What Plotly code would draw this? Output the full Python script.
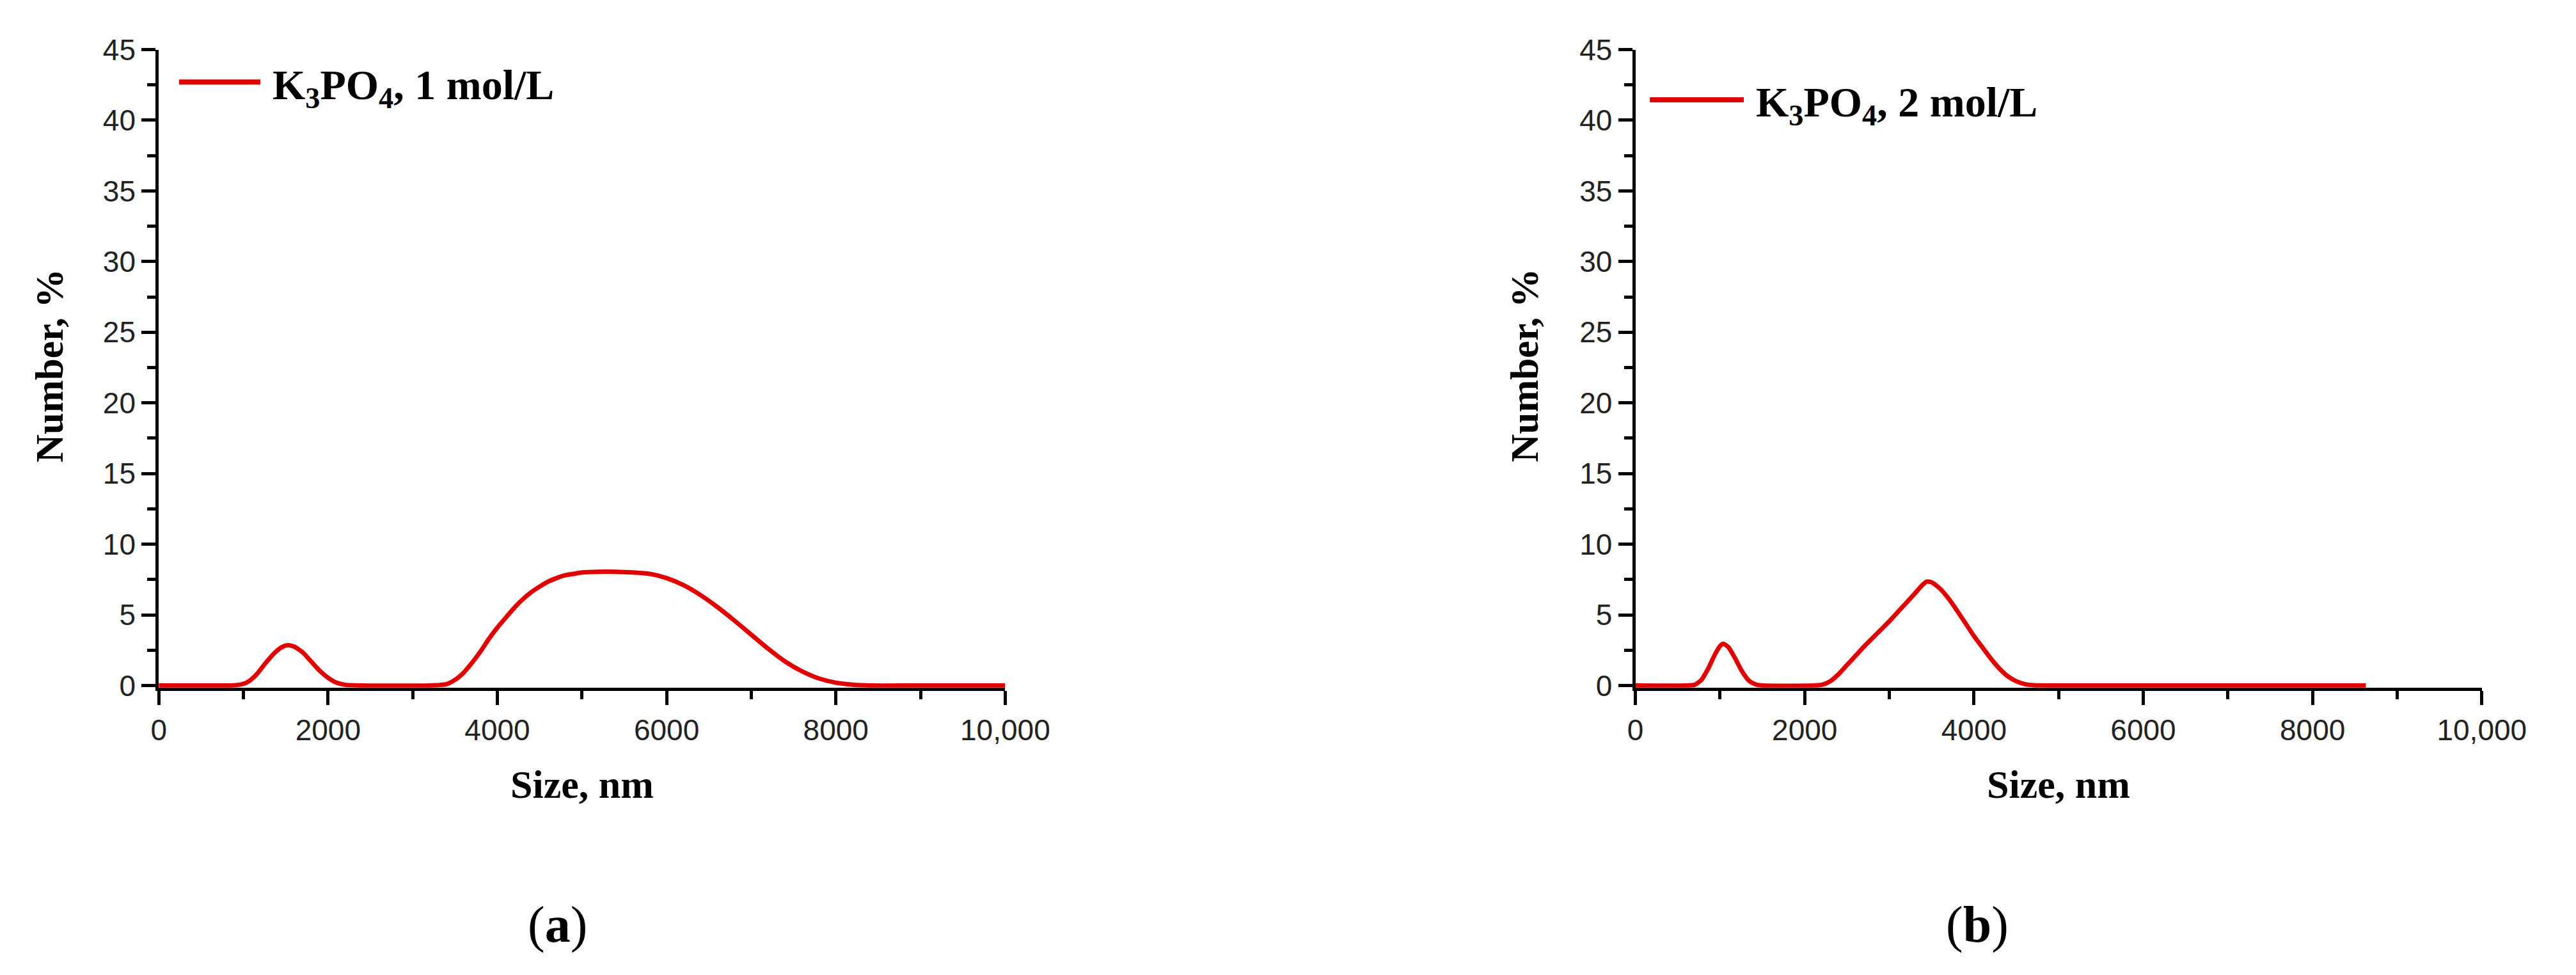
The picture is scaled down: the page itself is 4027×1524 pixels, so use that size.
"""
Particle size distributions (number %) for K3PO4 solutions, two panels.
"""

import plotly.graph_objects as go

# ---- data ----
SIZE_1M = [0, 500, 850, 950, 1050, 1150, 1250, 1350, 1450, 1525, 1600, 1700, 1800,
           1900, 2000, 2100, 2200, 2400, 3200, 3400, 3500, 3600, 3700, 3800, 3900,
           4000, 4100, 4200, 4300, 4400, 4500, 4600, 4700, 4800, 4900, 5000, 5200,
           5400, 5600, 5800, 6000, 6200, 6400, 6600, 6800, 7000, 7200, 7400, 7600,
           7800, 8000, 8200, 8400, 9000, 10000]
NUMBER_1M = [0, 0, 0, 0.05, 0.25, 0.75, 1.5, 2.2, 2.7, 2.85, 2.75, 2.35, 1.7,
             1.05, 0.55, 0.2, 0.05, 0, 0, 0.1, 0.4, 0.9, 1.6, 2.4, 3.3,
             4.1, 4.8, 5.5, 6.1, 6.6, 7.0, 7.35, 7.6, 7.8, 7.9, 8.0, 8.05,
             8.05, 8.0, 7.9, 7.6, 7.1, 6.4, 5.55, 4.6, 3.6, 2.6, 1.7, 1.0,
             0.5, 0.2, 0.06, 0, 0, 0]

SIZE_2M = [0, 600, 700, 780, 860, 940, 1000, 1040, 1100, 1180, 1260, 1340, 1420,
           1500, 2100, 2200, 2300, 2400, 2500, 2600, 2700, 2800, 2900, 3000, 3100,
           3200, 3300, 3380, 3440, 3500, 3600, 3700, 3800, 3900, 4000, 4100, 4200,
           4300, 4400, 4500, 4600, 4700, 5000, 8630]
NUMBER_2M = [0, 0, 0.05, 0.4, 1.2, 2.2, 2.8, 2.95, 2.7, 1.9, 1.0, 0.35, 0.08,
             0, 0, 0.05, 0.3, 0.8, 1.45, 2.1, 2.75, 3.35, 3.95, 4.55, 5.2,
             5.85, 6.5, 7.05, 7.35, 7.3, 6.85, 6.15, 5.3, 4.4, 3.5, 2.7, 1.9,
             1.2, 0.65, 0.3, 0.1, 0.02, 0, 0]

X_TICKS = [0, 2000, 4000, 6000, 8000, 10000]
X_TICK_TEXT = ["0", "2000", "4000", "6000", "8000", "10,000"]
Y_TICKS = [0, 5, 10, 15, 20, 25, 30, 35, 40, 45]

LEGENDS = ["<b>K<sub>3</sub>PO<sub>4</sub>, 1 mol/L</b>",
           "<b>K<sub>3</sub>PO<sub>4</sub>, 2 mol/L</b>"]
PANEL_LABELS = ["(<b>a</b>)", "(<b>b</b>)"]

RED = "#e00000"
SERIF = "Liberation Serif, Times New Roman, serif"
SANS = "Liberation Sans, Arial, sans-serif"

W, H = 4027, 1524


def axis_style():
    return dict(
        showgrid=False, zeroline=False, showline=True,
        linecolor="black", linewidth=5,
        ticks="outside", ticklen=22, tickwidth=5, tickcolor="black",
        tickfont=dict(family=SANS, size=46, color="#222"),
        layer="below traces",
    )


def build_figure() -> go.Figure:
    fig = go.Figure()

    x_domains = [(232 / W, 1583 / W), (2589 / W, 3940 / W)]
    y_domain = [(H - 1075.4) / H, (H - 45) / H]
    series = [(SIZE_1M, NUMBER_1M), (SIZE_2M, NUMBER_2M)]
    legend_y = [42.7, 41.45]
    legend_line = [(0.024, 0.120), (0.017, 0.128)]
    legend_text_x = [0.133, 0.141]
    ytitle_x = [57 / W, 2412 / W]
    panel_x = [868 / W, 3135 / W]

    for i, (sx, sy) in enumerate(series):
        n = "" if i == 0 else str(i + 1)
        xa, ya = "x" + n, "y" + n

        fig.add_trace(go.Scatter(
            x=sx, y=sy, xaxis=xa, yaxis=ya,
            mode="lines", line=dict(color=RED, width=7, shape="spline", smoothing=0.6),
            showlegend=False,
        ))

        xax = axis_style()
        xax.update(domain=list(x_domains[i]), range=[0, 10000], anchor=ya,
                   tickvals=X_TICKS, ticktext=X_TICK_TEXT,
                   minor=dict(dtick=1000, tick0=0, ticks="outside", ticklen=13,
                              tickwidth=5, tickcolor="black"))
        yax = axis_style()
        yax.update(domain=y_domain, range=[-0.15, 45], anchor=xa,
                   tickvals=Y_TICKS,
                   minor=dict(dtick=2.5, tick0=0, ticks="outside", ticklen=13,
                              tickwidth=5, tickcolor="black"))
        fig.layout["xaxis" + n] = xax
        fig.layout["yaxis" + n] = yax

        # legend drawn by hand so the sample line matches the original length
        fig.add_shape(type="line", xref=xa + " domain", yref=ya,
                      x0=legend_line[i][0], x1=legend_line[i][1],
                      y0=legend_y[i], y1=legend_y[i],
                      line=dict(color=RED, width=8))
        fig.add_annotation(text=LEGENDS[i], xref=xa + " domain", yref=ya,
                           x=legend_text_x[i], y=legend_y[i] - 0.4,
                           xanchor="left", yanchor="middle",
                           showarrow=False, font=dict(family=SERIF, size=66, color="black"))

        # axis titles
        fig.add_annotation(text="<b>Size, nm</b>", xref=xa + " domain", yref="paper",
                           x=0.5, y=(H - 1232) / H, xanchor="center", yanchor="middle",
                           showarrow=False, font=dict(family=SERIF, size=62, color="black"))
        fig.add_annotation(text="<b>Number, %</b>", xref="paper", yref="paper",
                           x=ytitle_x[i], y=(H - 555) / H, xanchor="center", yanchor="middle",
                           textangle=-90, showarrow=False,
                           font=dict(family=SERIF, size=61, color="black"))
        # panel label
        fig.add_annotation(text=PANEL_LABELS[i], xref="paper", yref="paper",
                           x=panel_x[i], y=(H - 1458) / H, xanchor="center", yanchor="middle",
                           showarrow=False, font=dict(family=SERIF, size=80, color="black"))

    fig.update_layout(
        width=W, height=H,
        margin=dict(l=0, r=0, t=0, b=0),
        plot_bgcolor="white", paper_bgcolor="white",
        showlegend=False,
    )
    return fig


def main():
    fig = build_figure()
    fig.write_html("out.html")


if __name__ == "__main__":
    main()
